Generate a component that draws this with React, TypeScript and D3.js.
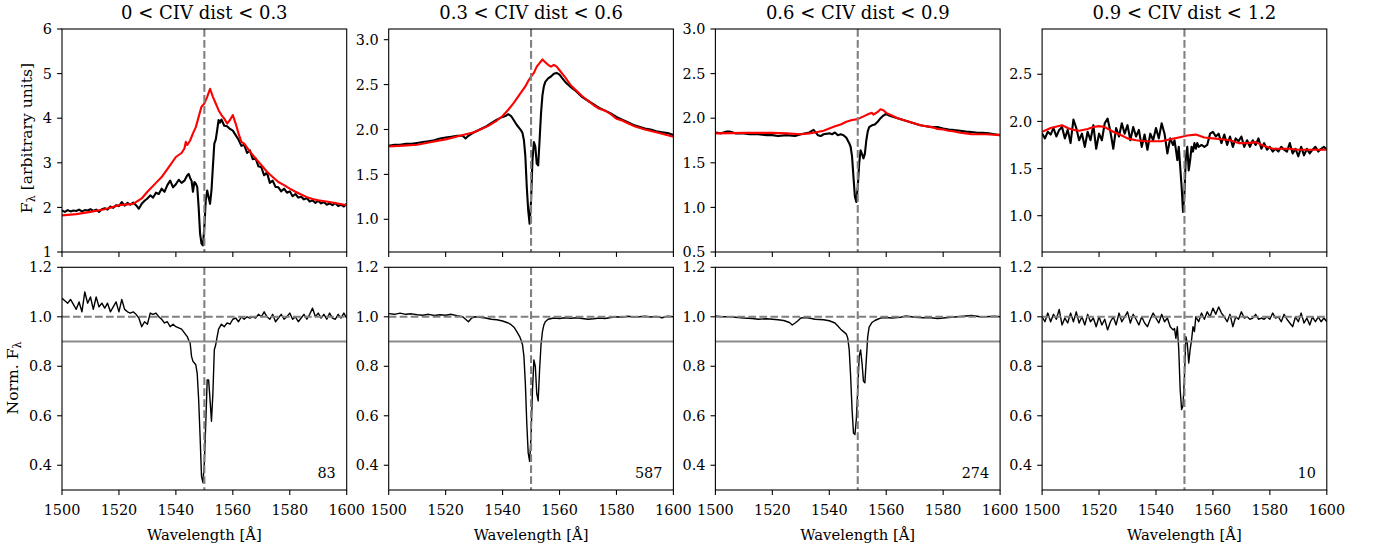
import React from 'react';
import * as d3 from 'd3';

type Pt = [number, number];

// ---------- data ----------
const TITLES = ['0 < CIV dist < 0.3', '0.3 < CIV dist < 0.6', '0.6 < CIV dist < 0.9', '0.9 < CIV dist < 1.2'];
const COUNTS = ['83', '587', '274', '10'];
const X_DOMAIN: [number, number] = [1500, 1600];
const X_TICKS = [1500, 1520, 1540, 1560, 1580, 1600];
const TOP_DOMAINS: [number, number][] = [[1, 6], [0.636, 3.119], [0.5, 3.0], [0.615, 2.98]];
const TOP_TICKS = [[1, 2, 3, 4, 5, 6], [1.0, 1.5, 2.0, 2.5, 3.0], [0.5, 1.0, 1.5, 2.0, 2.5, 3.0], [1.0, 1.5, 2.0, 2.5]];
const TOP_DECIMALS = [0, 1, 1, 1];
const NORM_DOMAIN: [number, number] = [0.3, 1.2];
const NORM_TICKS = [0.4, 0.6, 0.8, 1.0, 1.2];
const LINE_CENTER = 1550;
const NORM_CONT = 1.0;
const NORM_CUT = 0.9;

const P1_OBS: Pt[] = [[1500,1.93],[1501,1.9],[1502,1.94],[1503,1.91],[1504,1.93],[1505,1.92],[1506,1.95],[1507,1.91],[1508,1.94],[1509,1.93],[1510,1.96],[1511,1.92],[1512,1.95],[1513,1.9],[1514,1.96],[1515,1.98],[1516,1.95],[1517,2.02],[1518,1.99],[1519,2.05],[1520,2.03],[1521,2.12],[1522,2.04],[1523,2.1],[1524,2.06],[1525,2.11],[1526,2.05],[1527,1.97],[1528,2.08],[1529,2.15],[1530,2.2],[1531,2.27],[1532,2.22],[1533,2.33],[1534,2.3],[1535,2.42],[1536,2.35],[1537,2.5],[1538,2.6],[1539,2.45],[1540,2.52],[1541,2.62],[1542,2.55],[1543,2.6],[1544,2.72],[1544.5,2.75],[1545,2.66],[1545.5,2.6],[1546,2.35],[1546.5,2.57],[1547,2.53],[1547.5,2.46],[1548,2.0],[1548.5,1.41],[1549,1.19],[1549.5,1.15],[1550,1.56],[1550.5,2.16],[1551,2.38],[1551.5,2.23],[1552,2.08],[1552.5,2.38],[1553,2.91],[1553.5,3.43],[1554,3.52],[1554.5,3.73],[1555,3.96],[1555.5,3.9],[1556,3.97],[1557,3.83],[1558,3.82],[1559,3.76],[1560,3.72],[1561,3.62],[1562,3.52],[1563,3.38],[1564,3.4],[1565,3.22],[1566,3.28],[1567,3.08],[1568,3.1],[1569,2.92],[1570,2.9],[1571,2.72],[1572,2.78],[1573,2.55],[1574,2.6],[1575,2.46],[1576,2.45],[1577,2.36],[1578,2.42],[1579,2.33],[1580,2.36],[1581,2.25],[1582,2.3],[1583,2.22],[1584,2.24],[1585,2.18],[1586,2.21],[1587,2.13],[1588,2.16],[1589,2.1],[1590,2.15],[1591,2.09],[1592,2.12],[1593,2.06],[1594,2.09],[1595,2.05],[1596,2.1],[1597,2.03],[1598,2.06],[1599,2.02],[1600,2.08]];
const P1_MODEL: Pt[] = [[1500,1.82],[1505,1.85],[1510,1.9],[1515,1.96],[1520,2.05],[1525,2.08],[1528,2.2],[1530,2.35],[1533,2.55],[1535,2.68],[1538,2.95],[1540,3.13],[1542,3.22],[1543,3.32],[1543.5,3.47],[1544,3.4],[1545,3.5],[1546,3.66],[1547,3.8],[1548,4.03],[1549,4.26],[1550,4.33],[1551,4.48],[1552,4.66],[1553,4.48],[1554,4.33],[1555,4.18],[1556,4.07],[1557,3.99],[1558,3.88],[1559,3.96],[1560,4.07],[1561,3.88],[1562,3.66],[1563,3.47],[1564,3.43],[1566,3.25],[1568,3.1],[1570,2.95],[1572,2.8],[1574,2.68],[1576,2.57],[1578,2.5],[1580,2.42],[1582,2.35],[1584,2.29],[1586,2.23],[1588,2.19],[1590,2.16],[1595,2.11],[1600,2.05]];
const P1_NORM: Pt[] = [[1500,1.075],[1501,1.065],[1502,1.055],[1503,1.07],[1504,1.05],[1505,1.03],[1506,1.06],[1507,1.02],[1508,1.1],[1509,1.055],[1510,1.08],[1511,1.03],[1512,1.08],[1513,1.04],[1514,1.055],[1515,1.035],[1516,1.055],[1517,1.02],[1518,1.04],[1519,1.06],[1520,1.02],[1521,1.07],[1522,1.03],[1523,1.02],[1524,1.015],[1525,1.02],[1526,1.01],[1527,0.995],[1528,0.96],[1529,0.98],[1530,0.97],[1531,1.015],[1532,1.01],[1533,1.015],[1534,1.0],[1535,0.99],[1536,0.975],[1537,0.98],[1538,0.96],[1539,0.97],[1540,0.96],[1541,0.955],[1542,0.95],[1543,0.935],[1544,0.92],[1544.5,0.905],[1545,0.895],[1545.5,0.84],[1546,0.82],[1546.5,0.813],[1547,0.806],[1547.5,0.77],[1548,0.665],[1548.5,0.517],[1549,0.356],[1549.5,0.33],[1550,0.41],[1550.5,0.57],[1551,0.745],[1551.5,0.745],[1552,0.665],[1552.5,0.578],[1553,0.69],[1553.5,0.867],[1554,0.887],[1554.5,0.92],[1555,0.95],[1555.5,0.96],[1556,0.97],[1557,0.96],[1558,0.975],[1559,0.97],[1560,0.99],[1561,0.995],[1562,0.98],[1563,1.0],[1564,0.99],[1565,1.0],[1566,0.995],[1567,1.0],[1568,0.995],[1569,1.01],[1570,1.0],[1571,1.02],[1572,1.0],[1573,0.99],[1574,1.01],[1575,0.98],[1576,0.995],[1577,1.01],[1578,0.99],[1579,1.0],[1580,1.015],[1581,0.99],[1582,1.0],[1583,0.98],[1584,0.995],[1585,1.01],[1586,0.99],[1587,1.01],[1588,1.035],[1589,1.0],[1590,1.015],[1591,0.995],[1592,1.01],[1593,0.99],[1594,1.015],[1595,0.995],[1596,0.99],[1597,1.01],[1598,0.995],[1599,1.015],[1600,0.995]];

const P2_OBS: Pt[] = [[1500,1.82],[1502,1.83],[1504,1.83],[1506,1.84],[1508,1.84],[1510,1.85],[1512,1.86],[1514,1.87],[1516,1.88],[1518,1.9],[1520,1.91],[1522,1.92],[1524,1.93],[1526,1.93],[1527,1.9],[1528,1.93],[1530,1.97],[1532,2.0],[1534,2.03],[1536,2.07],[1538,2.11],[1540,2.14],[1541,2.15],[1542,2.17],[1543,2.15],[1544,2.1],[1545,2.05],[1546,2.01],[1546.5,1.99],[1547,1.96],[1547.5,1.88],[1548,1.7],[1548.5,1.36],[1549,1.1],[1549.5,0.95],[1550,1.21],[1550.5,1.66],[1551,1.86],[1551.5,1.81],[1552,1.62],[1552.5,1.6],[1553,1.88],[1553.5,2.18],[1554,2.38],[1554.5,2.48],[1555,2.53],[1556,2.57],[1557,2.59],[1558,2.62],[1559,2.63],[1560,2.61],[1561,2.57],[1562,2.53],[1564,2.47],[1566,2.42],[1568,2.36],[1570,2.32],[1572,2.28],[1574,2.24],[1576,2.21],[1578,2.18],[1580,2.14],[1582,2.11],[1584,2.08],[1586,2.05],[1588,2.03],[1590,2.01],[1592,2.0],[1594,1.98],[1596,1.97],[1598,1.96],[1600,1.94]];
const P2_MODEL: Pt[] = [[1500,1.81],[1505,1.82],[1510,1.83],[1515,1.86],[1520,1.89],[1525,1.93],[1530,1.97],[1535,2.04],[1538,2.1],[1540,2.15],[1542,2.22],[1544,2.3],[1546,2.39],[1548,2.48],[1549,2.54],[1550,2.59],[1551,2.63],[1552,2.7],[1553,2.74],[1554,2.78],[1555,2.75],[1556,2.72],[1557,2.7],[1558,2.72],[1559,2.7],[1560,2.66],[1562,2.58],[1564,2.49],[1566,2.43],[1568,2.37],[1570,2.32],[1572,2.27],[1574,2.23],[1576,2.21],[1578,2.17],[1580,2.12],[1582,2.1],[1584,2.07],[1586,2.04],[1588,2.02],[1590,2.0],[1595,1.96],[1600,1.92]];
const P2_NORM: Pt[] = [[1500,1.013],[1502,1.01],[1504,1.015],[1506,1.01],[1508,1.012],[1510,1.008],[1512,1.006],[1514,1.01],[1516,1.005],[1518,1.008],[1520,1.006],[1522,1.01],[1524,1.004],[1526,1.0],[1527,0.99],[1528,0.98],[1529,0.993],[1530,1.0],[1532,0.998],[1534,0.995],[1536,0.99],[1538,0.988],[1540,0.983],[1542,0.975],[1543,0.968],[1544,0.958],[1545,0.94],[1546,0.92],[1546.5,0.905],[1547,0.887],[1547.5,0.84],[1548,0.73],[1548.5,0.57],[1549,0.45],[1549.5,0.416],[1550,0.517],[1550.5,0.705],[1551,0.826],[1551.5,0.8],[1552,0.69],[1552.5,0.66],[1553,0.786],[1553.5,0.887],[1554,0.94],[1554.5,0.967],[1555,0.98],[1556,0.99],[1558,0.995],[1560,0.993],[1562,0.996],[1564,0.994],[1566,0.996],[1568,0.993],[1570,0.99],[1572,0.992],[1574,0.995],[1576,0.993],[1578,0.997],[1580,1.0],[1582,0.998],[1584,1.002],[1586,0.999],[1588,1.0],[1590,1.002],[1592,0.999],[1594,1.001],[1596,0.996],[1598,1.002],[1600,1.0]];

const P3_OBS: Pt[] = [[1500,1.84],[1502,1.83],[1504,1.85],[1505,1.85],[1507,1.83],[1510,1.83],[1512,1.82],[1515,1.82],[1518,1.81],[1520,1.81],[1522,1.8],[1525,1.81],[1528,1.8],[1530,1.82],[1533,1.84],[1534.5,1.87],[1536,1.81],[1537,1.8],[1538,1.82],[1540,1.83],[1541,1.82],[1542,1.84],[1543,1.81],[1544,1.82],[1545,1.81],[1546,1.78],[1547,1.72],[1547.5,1.68],[1548,1.57],[1548.5,1.34],[1549,1.12],[1549.5,1.06],[1550,1.23],[1550.5,1.49],[1551,1.64],[1551.5,1.6],[1552,1.55],[1552.5,1.6],[1553,1.75],[1553.5,1.85],[1554,1.9],[1555,1.92],[1556,1.93],[1557,1.96],[1558,2.0],[1559,2.03],[1560,2.05],[1561,2.03],[1562,2.02],[1564,2.0],[1566,1.98],[1568,1.96],[1570,1.94],[1572,1.92],[1574,1.91],[1576,1.9],[1578,1.9],[1580,1.885],[1582,1.874],[1584,1.866],[1586,1.86],[1588,1.85],[1590,1.845],[1592,1.836],[1594,1.836],[1596,1.83],[1598,1.82],[1600,1.81]];
const P3_MODEL: Pt[] = [[1500,1.83],[1510,1.836],[1520,1.836],[1525,1.83],[1530,1.82],[1533,1.83],[1535,1.84],[1538,1.86],[1540,1.885],[1542,1.91],[1544,1.93],[1546,1.96],[1548,1.98],[1550,1.99],[1552,2.02],[1554,2.05],[1555,2.06],[1555.5,2.04],[1556,2.05],[1557,2.07],[1558,2.1],[1559,2.09],[1560,2.06],[1562,2.03],[1564,2.0],[1566,1.98],[1568,1.96],[1570,1.94],[1572,1.92],[1574,1.91],[1576,1.9],[1578,1.88],[1580,1.874],[1582,1.86],[1584,1.85],[1586,1.836],[1588,1.83],[1590,1.82],[1595,1.82],[1600,1.81]];
const P3_NORM: Pt[] = [[1500,1.003],[1502,1.0],[1505,1.0],[1508,0.997],[1510,0.995],[1513,0.993],[1515,0.99],[1518,0.992],[1520,0.99],[1522,0.988],[1524,0.985],[1526,0.977],[1527,0.967],[1528,0.975],[1529,0.984],[1530,0.995],[1532,0.997],[1535,0.99],[1538,0.988],[1540,0.984],[1542,0.975],[1543,0.963],[1544,0.95],[1545,0.94],[1546,0.93],[1546.5,0.913],[1547,0.866],[1547.5,0.76],[1548,0.625],[1548.5,0.53],[1549,0.524],[1549.5,0.585],[1550,0.705],[1550.5,0.84],[1551,0.866],[1551.5,0.813],[1552,0.74],[1552.5,0.733],[1553,0.826],[1553.5,0.92],[1554,0.958],[1555,0.977],[1556,0.985],[1557,0.99],[1558,0.995],[1560,0.997],[1562,0.995],[1565,0.998],[1567,1.003],[1570,0.998],[1573,0.996],[1575,0.997],[1578,0.993],[1580,0.995],[1583,0.998],[1585,1.0],[1588,1.003],[1590,1.005],[1593,1.0],[1595,1.0],[1598,1.002],[1600,1.0]];

const P4_OBS: Pt[] = [[1500,1.87],[1501,1.82],[1502,1.89],[1503,1.86],[1504,1.93],[1505,1.84],[1506,1.91],[1507,1.94],[1508,1.82],[1509,1.91],[1510,1.77],[1511,2.02],[1512,1.93],[1513,1.8],[1514,1.87],[1515,1.73],[1516,1.89],[1517,1.8],[1518,1.96],[1519,1.71],[1520,1.87],[1521,1.8],[1522,1.98],[1523,2.03],[1524,1.89],[1525,1.71],[1526,1.93],[1527,1.84],[1528,1.98],[1529,1.87],[1530,1.96],[1531,1.8],[1532,1.94],[1533,1.84],[1534,1.91],[1535,1.73],[1536,1.86],[1537,1.7],[1538,1.87],[1539,1.8],[1540,1.93],[1541,1.82],[1542,1.98],[1543,1.87],[1544,1.66],[1545,1.82],[1546,1.75],[1546.5,1.8],[1547,1.7],[1547.5,1.59],[1548,1.73],[1548.5,1.52],[1549,1.31],[1549.5,1.04],[1550,1.24],[1550.5,1.63],[1551,1.73],[1551.5,1.48],[1552,1.59],[1552.5,1.73],[1553,1.68],[1553.5,1.77],[1554,1.71],[1554.5,1.77],[1555,1.73],[1556,1.75],[1557,1.73],[1558,1.75],[1559,1.87],[1560,1.89],[1561,1.84],[1562,1.87],[1563,1.77],[1564,1.86],[1565,1.75],[1566,1.84],[1567,1.73],[1568,1.82],[1569,1.79],[1570,1.84],[1571,1.73],[1572,1.8],[1573,1.73],[1574,1.8],[1575,1.75],[1576,1.82],[1577,1.71],[1578,1.77],[1579,1.7],[1580,1.73],[1581,1.68],[1582,1.71],[1583,1.68],[1584,1.73],[1585,1.7],[1586,1.68],[1587,1.77],[1588,1.66],[1589,1.71],[1590,1.63],[1591,1.73],[1592,1.64],[1593,1.71],[1594,1.66],[1595,1.7],[1596,1.73],[1597,1.68],[1598,1.71],[1599,1.73],[1600,1.7]];
const P4_MODEL: Pt[] = [[1500,1.89],[1503,1.93],[1507,1.96],[1509,1.93],[1511,1.91],[1513,1.9],[1516,1.92],[1518,1.94],[1520,1.95],[1522,1.94],[1525,1.89],[1528,1.85],[1530,1.82],[1533,1.8],[1536,1.79],[1539,1.79],[1542,1.79],[1545,1.81],[1548,1.83],[1551,1.85],[1554,1.86],[1557,1.83],[1560,1.82],[1563,1.81],[1566,1.8],[1569,1.77],[1572,1.77],[1575,1.78],[1578,1.74],[1581,1.71],[1584,1.71],[1587,1.71],[1590,1.7],[1595,1.7],[1600,1.7]];
const P4_NORM: Pt[] = [[1500,1.0],[1501,0.98],[1502,1.015],[1503,0.98],[1504,1.01],[1505,0.99],[1506,1.03],[1507,0.967],[1508,0.995],[1509,0.975],[1510,1.015],[1511,0.98],[1512,1.02],[1513,0.975],[1514,1.0],[1515,0.967],[1516,1.01],[1517,0.98],[1518,0.995],[1519,0.96],[1520,1.0],[1521,0.967],[1522,0.99],[1523,0.947],[1524,0.98],[1525,1.0],[1526,0.967],[1527,1.015],[1528,0.98],[1529,1.0],[1530,1.02],[1531,0.975],[1532,1.01],[1533,0.99],[1534,0.967],[1535,1.0],[1536,0.975],[1537,0.96],[1538,0.99],[1539,1.015],[1540,0.995],[1541,0.975],[1542,1.01],[1543,0.98],[1544,0.995],[1545,0.96],[1546,0.947],[1546.5,0.953],[1547,0.913],[1547.5,0.96],[1548,0.867],[1548.5,0.705],[1549,0.625],[1549.5,0.64],[1550,0.76],[1550.5,0.92],[1551,0.893],[1551.5,0.813],[1552,0.867],[1552.5,0.907],[1553,0.96],[1553.5,0.94],[1554,1.0],[1555,0.98],[1556,1.015],[1557,0.99],[1558,1.02],[1559,1.0],[1560,1.035],[1561,1.01],[1562,1.04],[1563,1.015],[1564,1.0],[1565,0.98],[1566,1.01],[1567,0.96],[1568,1.0],[1569,0.99],[1570,1.02],[1571,0.995],[1572,1.0],[1573,0.99],[1574,0.995],[1575,1.01],[1576,0.99],[1577,0.995],[1578,0.99],[1579,1.0],[1580,0.99],[1581,1.015],[1582,0.995],[1583,1.0],[1584,0.98],[1585,1.01],[1586,0.99],[1587,0.975],[1588,0.96],[1589,1.0],[1590,0.98],[1591,1.015],[1592,0.975],[1593,0.995],[1594,0.967],[1595,1.0],[1596,0.98],[1597,1.0],[1598,0.98],[1599,0.995],[1600,0.98]];

const OBS = [P1_OBS, P2_OBS, P3_OBS, P4_OBS];
const MODELS = [P1_MODEL, P2_MODEL, P3_MODEL, P4_MODEL];
const NORMS = [P1_NORM, P2_NORM, P3_NORM, P4_NORM];

// ---------- layout ----------
const W = 1374, H = 551;
const PX0 = 62, PDX = 326.7, PW = 284.7;
const TOP_Y0 = 29, TOP_Y1 = 252;
const BOT_Y0 = 267.3, BOT_Y1 = 490;
const FONT = "'DejaVu Serif', serif";
const FS = 14.4;
const YLABEL_FS = 15.6;
const TICK = 4.9;
const GRAY = '#808080';

function Axes(props: {
  id: string; x0: number; y0: number; y1: number;
  yDomain: [number, number]; yTicks: number[]; dec: number; xLabels: boolean;
  children: (x: d3.ScaleLinear<number, number>, y: d3.ScaleLinear<number, number>) => React.ReactNode;
}) {
  const { id, x0, y0, y1, yDomain, yTicks, dec, xLabels } = props;
  const x = d3.scaleLinear().domain(X_DOMAIN).range([x0, x0 + PW]);
  const y = d3.scaleLinear().domain(yDomain).range([y1, y0]);
  const fmt = d3.format(`.${dec}f`);
  return (
    <g>
      <defs>
        <clipPath id={id}>
          <rect x={x0} y={y0} width={PW} height={y1 - y0} />
        </clipPath>
      </defs>
      <g clipPath={`url(#${id})`}>{props.children(x, y)}</g>
      <rect x={x0} y={y0} width={PW} height={y1 - y0} fill="none" stroke="#000" strokeWidth={1.1} />
      {X_TICKS.map((t) => (
        <g key={'x' + t}>
          <line x1={x(t)} x2={x(t)} y1={y1} y2={y1 + TICK} stroke="#000" strokeWidth={1.1} />
          {xLabels && (
            <text x={x(t)} y={y1 + 25} textAnchor="middle" fontFamily={FONT} fontSize={FS} fill="#000">{t}</text>
          )}
        </g>
      ))}
      {yTicks.map((t) => (
        <g key={'y' + t}>
          <line x1={x0 - TICK} x2={x0} y1={y(t)} y2={y(t)} stroke="#000" strokeWidth={1.1} />
          <text x={x0 - 10} y={y(t)} dy="0.36em" textAnchor="end" fontFamily={FONT} fontSize={FS} fill="#000">{fmt(t)}</text>
        </g>
      ))}
    </g>
  );
}

export default function App() {
  const line = (x: d3.ScaleLinear<number, number>, y: d3.ScaleLinear<number, number>) =>
    d3.line<Pt>().x((d) => x(d[0])).y((d) => y(d[1]));
  const dash = '7.7 3.3';
  return (
    <svg width={W} height={H} style={{ position: 'absolute', left: 0, top: 0, background: '#fff' }}>
      <rect width={W} height={H} fill="#fff" />
      {TITLES.map((title, i) => {
        const x0 = PX0 + i * PDX;
        return (
          <g key={i}>
            <text x={x0 + PW / 2} y={19} textAnchor="middle" fontFamily={FONT} fontSize={18} fill="#000">{title}</text>
            <Axes id={`top${i}`} x0={x0} y0={TOP_Y0} y1={TOP_Y1} yDomain={TOP_DOMAINS[i]} yTicks={TOP_TICKS[i]} dec={TOP_DECIMALS[i]} xLabels={false}>
              {(x, y) => (
                <>
                  <path d={line(x, y)(OBS[i]) || ''} fill="none" stroke="#000" strokeWidth={2.1} strokeLinejoin="round" />
                  <path d={line(x, y)(MODELS[i]) || ''} fill="none" stroke="#ff0000" strokeWidth={2.1} strokeLinejoin="round" />
                  <line x1={x(LINE_CENTER)} x2={x(LINE_CENTER)} y1={TOP_Y0} y2={TOP_Y1} stroke={GRAY} strokeWidth={2.1} strokeDasharray={dash} />
                </>
              )}
            </Axes>
            <Axes id={`bot${i}`} x0={x0} y0={BOT_Y0} y1={BOT_Y1} yDomain={NORM_DOMAIN} yTicks={NORM_TICKS} dec={1} xLabels={true}>
              {(x, y) => (
                <>
                  <path d={line(x, y)(NORMS[i]) || ''} fill="none" stroke="#000" strokeWidth={1.4} strokeLinejoin="round" />
                  <line x1={x0} x2={x0 + PW} y1={y(NORM_CONT)} y2={y(NORM_CONT)} stroke={GRAY} strokeWidth={2.1} strokeDasharray={dash} />
                  <line x1={x0} x2={x0 + PW} y1={y(NORM_CUT)} y2={y(NORM_CUT)} stroke={GRAY} strokeWidth={2.1} opacity={0.9} />
                  <line x1={x(LINE_CENTER)} x2={x(LINE_CENTER)} y1={BOT_Y0} y2={BOT_Y1} stroke={GRAY} strokeWidth={2.1} strokeDasharray={dash} />
                  <text x={x0 + PW - 11} y={478} textAnchor="end" fontFamily={FONT} fontSize={FS} fill="#000">{COUNTS[i]}</text>
                </>
              )}
            </Axes>
            <text x={x0 + PW / 2} y={540} textAnchor="middle" fontFamily={FONT} fontSize={14.8} fill="#000">Wavelength [Å]</text>
          </g>
        );
      })}
      <text transform={`translate(32,138) rotate(-90)`} textAnchor="middle" fontFamily={FONT} fontSize={YLABEL_FS} fill="#000">
        F<tspan dy={3} fontSize={11}>λ</tspan><tspan dy={-3}> [arbitrary units]</tspan>
      </text>
      <text transform={`translate(18,378) rotate(-90)`} textAnchor="middle" fontFamily={FONT} fontSize={YLABEL_FS} fill="#000">
        Norm. F<tspan dy={3} fontSize={11}>λ</tspan>
      </text>
    </svg>
  );
}
